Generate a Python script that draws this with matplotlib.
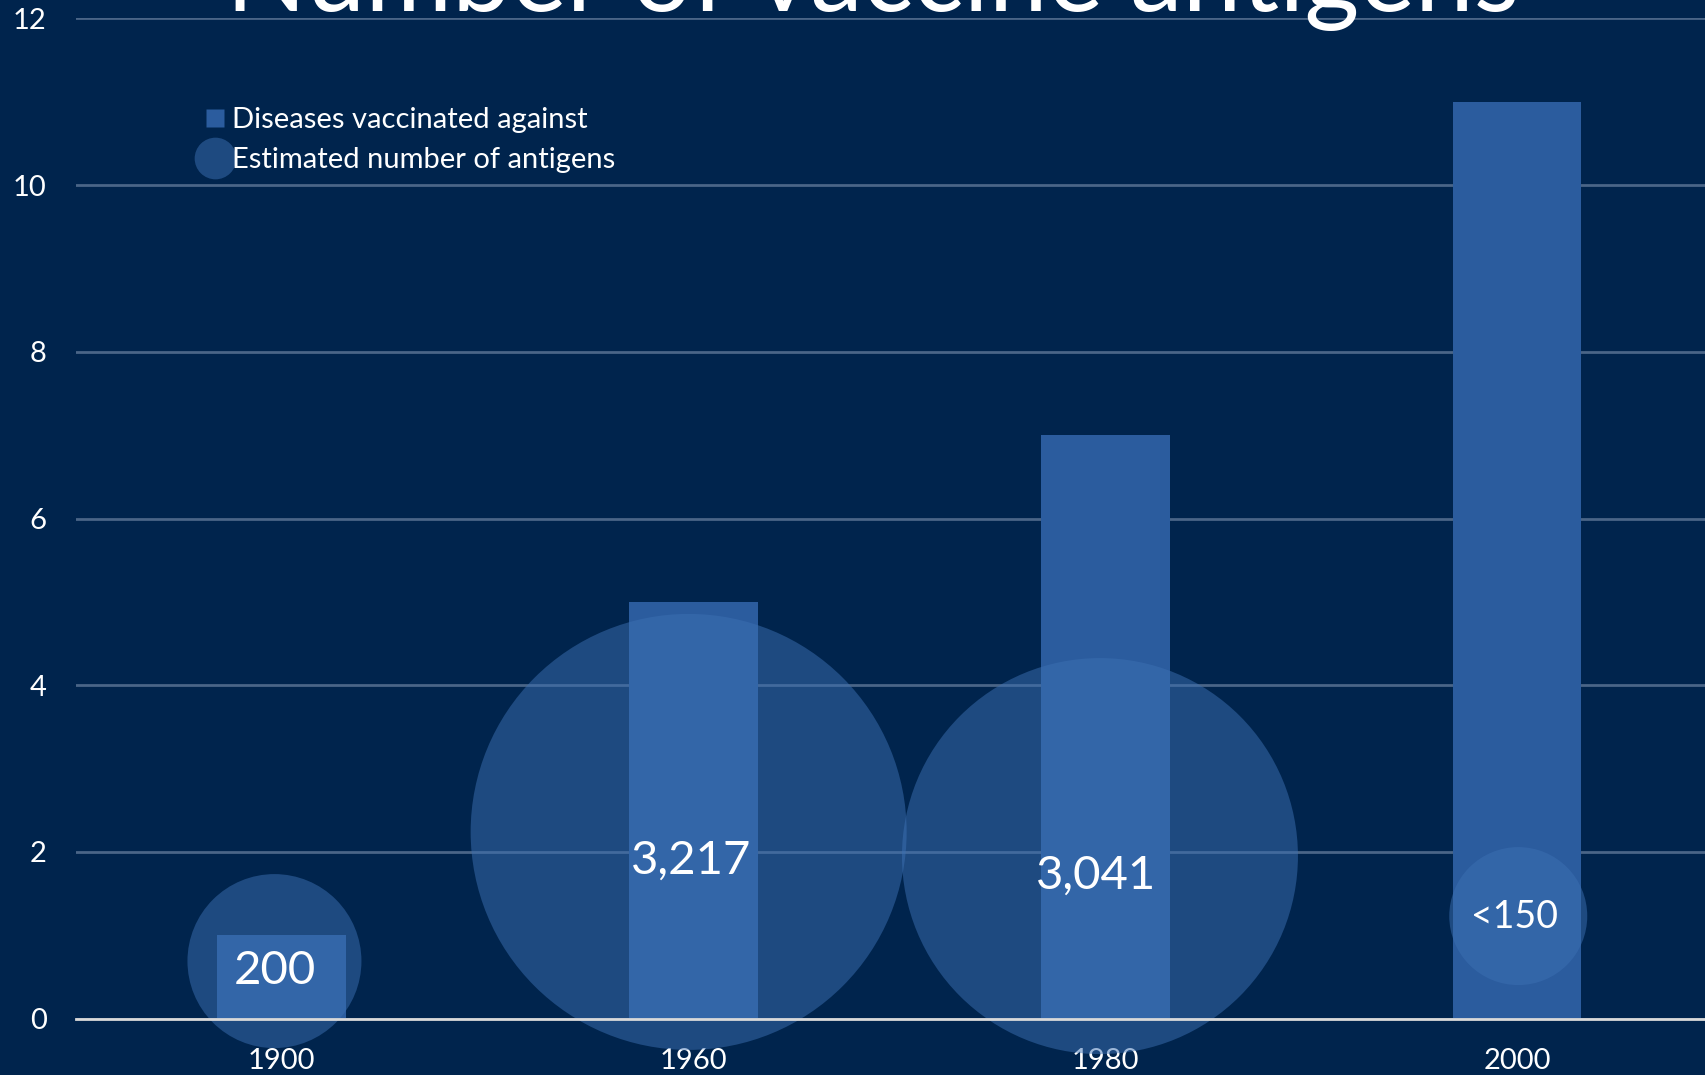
import matplotlib.pyplot as plt
from matplotlib.lines import Line2D

plt.rcParams['font.family'] = ['Lato', 'DejaVu Sans']

# data
years = ["1900", "1960", "1980", "2000"]
diseases = [1, 5, 7, 11]
antigen_labels = ["200", "3,217", "3,041", "<150"]
bubble_y = [0.69, 2.24, 1.95, 1.23]

# styling
bg = "#00244d"
bar_color = "#2b5c9e"
bubble_color = "#3c70b3"
bubble_diam_px = [174, 436, 396, 138]
bubble_shift = [-0.018, -0.012, -0.013, 0.003]
label_sizes = [34, 34, 34, 27]
label_offsets = [(0, -7), (2, -21), (-3, -14), (-3, -1)]

dpi = 100
fig = plt.figure(figsize=(17.06, 10.75), dpi=dpi, facecolor=bg)
ax = fig.add_axes([0.04455, 0.05247, 0.95545, 0.93033])
ax.set_facecolor(bg)

x = list(range(len(years)))
ax.bar(x, diseases, width=0.313, color=bar_color, zorder=2)

bx = [xi + s for xi, s in zip(x, bubble_shift)]
sizes = [(d * 72 / dpi) ** 2 for d in bubble_diam_px]
ax.scatter(bx, bubble_y, s=sizes, color=bubble_color, alpha=0.5,
           edgecolors="none", zorder=3, clip_on=False)

for xi, yi, lab, fs, off in zip(bx, bubble_y, antigen_labels, label_sizes, label_offsets):
    ax.annotate(lab, (xi, yi), xytext=off, textcoords="offset points",
                ha="center", va="center", color="white", fontsize=fs, zorder=4)

ax.set_xlim(-0.5, 3.459)
ax.set_ylim(0, 12)
ax.set_yticks(range(0, 13, 2))
ax.set_xticks(x)
ax.set_xticklabels(years)
ax.tick_params(axis="both", length=0, colors="white", labelsize=21)
ax.tick_params(axis="y", pad=21)
ax.tick_params(axis="x", pad=21)
ax.grid(axis="y", color="#4a6587", linewidth=2, zorder=0)
ax.set_axisbelow(True)
for side in ["top", "right", "left"]:
    ax.spines[side].set_visible(False)
ax.spines["bottom"].set_color("#d9d9d9")
ax.spines["bottom"].set_linewidth(2)
ax.spines["bottom"].set_zorder(5)

handles = [
    Line2D([], [], marker="s", linestyle="none", markersize=13,
           markerfacecolor=bar_color, markeredgecolor="none"),
    Line2D([], [], marker="o", linestyle="none", markersize=30,
           markerfacecolor="#1e4a80", markeredgecolor="none"),
]
leg = fig.legend(handles, ["Diseases vaccinated against", "Estimated number of antigens"],
                 loc="upper left", bbox_to_anchor=(200 / 1706, 1 - 107 / 1075),
                 frameon=False, fontsize=21, labelcolor="white",
                 handletextpad=0.1, handlelength=1.0, labelspacing=0.48,
                 borderaxespad=0, borderpad=0)

fig.text(873 / 1706, 1 - 11 / 1075, "Number of vaccine antigens", ha="center",
         va="baseline", color="white", fontsize=76)

fig.savefig("out.png", dpi=dpi, facecolor=bg)
